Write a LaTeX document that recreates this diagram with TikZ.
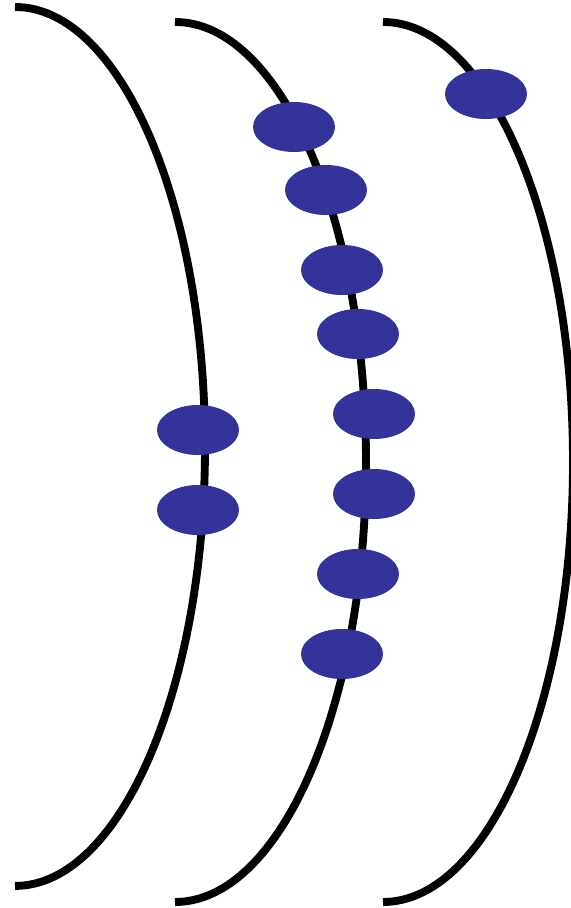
\documentclass[tikz,border=0pt]{standalone}
\usetikzlibrary{shapes.geometric}
\definecolor{dotblue}{HTML}{333399}
\begin{document}
\begin{tikzpicture}[x=0.75pt,y=0.75pt,
  shell/.style={line width=5.9pt},
  dot/.style={ellipse,fill=dotblue,draw=none,inner sep=0pt,minimum width=61.5pt,minimum height=37.5pt}]
\useasboundingbox (0,0) rectangle (571,908);
% shells (right halves of ellipses)
\draw[shell] (15,901) arc[start angle=90,end angle=-90,x radius=142.5pt,y radius=329.6pt];
\draw[shell] (175,886) arc[start angle=90,end angle=-90,x radius=143.25pt,y radius=330pt];
\draw[shell] (383,886) arc[start angle=90,end angle=-90,x radius=142.5pt,y radius=330pt];
% electrons
\node[dot] (a1) at (198,478) {};
\node[dot] (a2) at (198,398) {};
\node[dot] (b1) at (294,781) {};
\node[dot] (b2) at (326,718) {};
\node[dot] (b3) at (342,638) {};
\node[dot] (b4) at (358,574) {};
\node[dot] (b5) at (374,494) {};
\node[dot] (b6) at (374,414) {};
\node[dot] (b7) at (358,334) {};
\node[dot] (b8) at (342,254) {};
\node[dot] (c1) at (486,814) {};
\end{tikzpicture}
\end{document}
